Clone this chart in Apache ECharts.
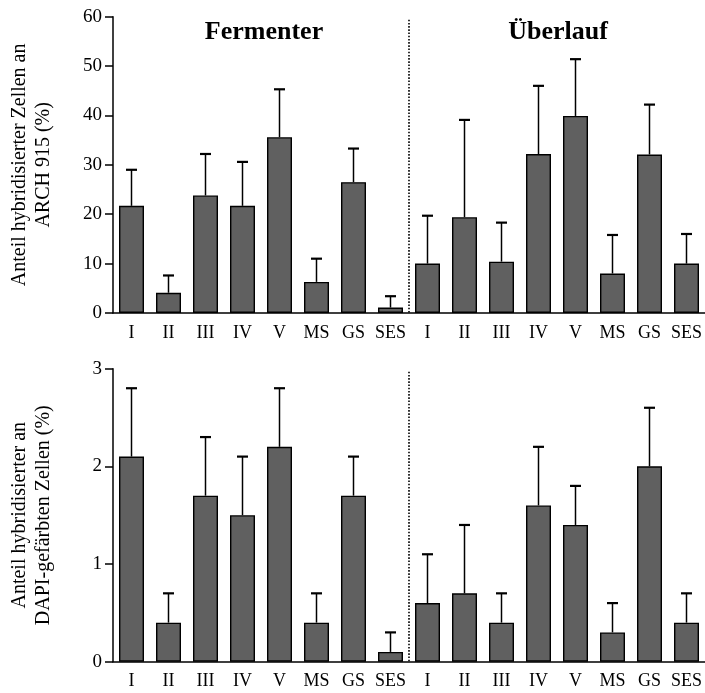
<!DOCTYPE html>
<html>
<head>
<meta charset="utf-8">
<script src="https://cdn.jsdelivr.net/npm/echarts@6/dist/echarts.min.js"></script>
<style>
html,body{margin:0;padding:0;background:#fff;}
#chart{width:705px;height:693px;}
</style>
</head>
<body>
<div id="chart"></div>
<script>
// ---- data ----
const categories = ['I','II','III','IV','V','MS','GS','SES','I','II','III','IV','V','MS','GS','SES'];
const groupTitles = ['Fermenter', 'Überlauf'];
// Top panel: share of hybridised cells in ARCH 915 (%)
const archMean = [21.7, 4.1, 23.8, 21.7, 35.6, 6.3, 26.5, 1.1, 10.0, 19.4, 10.4, 32.2, 39.9, 8.0, 32.1, 10.0];
const archSD   = [7.3, 3.5, 8.4, 8.9, 9.7, 4.7, 6.8, 2.3, 9.7, 19.7, 7.9, 13.8, 11.5, 7.8, 10.1, 6.0];
// Bottom panel: share of hybridised cells in DAPI-stained cells (%)
const dapiMean = [2.1, 0.4, 1.7, 1.5, 2.2, 0.4, 1.7, 0.1, 0.6, 0.7, 0.4, 1.6, 1.4, 0.3, 2.0, 0.4];
const dapiSD   = [0.7, 0.3, 0.6, 0.6, 0.6, 0.3, 0.4, 0.2, 0.5, 0.7, 0.3, 0.6, 0.4, 0.3, 0.6, 0.3];
const topTicks = {min: 0, max: 60, interval: 10};
const bottomTicks = {min: 0, max: 3, interval: 1};
const topAxisName = 'Anteil hybridisierter Zellen an\nARCH 915 (%)';
const bottomAxisName = 'Anteil hybridisierter an\nDAPI-gefärbten Zellen (%)';
const dividerAfterIndex = 7;

// ---- styles ----
const FONT = '"Liberation Serif", "Times New Roman", serif';
const BAR_COLOR = '#606060';

function errRender(params, api) {
  const x = api.value(0), m = api.value(1), sd = api.value(2);
  const base = api.coord([x, m]);
  const top = api.coord([x, m + sd]);
  const half = 5.5;
  return {
    type: 'group',
    children: [
      {type: 'line', shape: {x1: base[0], y1: base[1], x2: top[0], y2: top[1]}, style: {stroke: '#000', lineWidth: 1.5}},
      {type: 'line', shape: {x1: top[0] - half, y1: top[1], x2: top[0] + half, y2: top[1]}, style: {stroke: '#000', lineWidth: 2.2}}
    ]
  };
}
function dividerRender(params, api) {
  const i = api.value(0);
  const a = api.coord([i, 0]);
  const b = api.coord([i + 1, 0]);
  const x = (a[0] + b[0]) / 2;
  const cs = params.coordSys;
  return {
    type: 'line',
    shape: {x1: x, y1: cs.y + 3, x2: x, y2: cs.y + cs.height},
    style: {stroke: '#000', lineWidth: 1.6, lineDash: [1.6, 1.6]}
  };
}

function xAxisCfg(gi) {
  return {
    type: 'category', gridIndex: gi, data: categories,
    axisLine: {lineStyle: {color: '#000', width: 1.5}},
    axisTick: {show: false},
    axisLabel: {interval: 0, color: '#000', fontFamily: FONT, fontSize: 18, margin: 11}
  };
}
function yAxisCfg(gi, ticks, name) {
  return {
    type: 'value', gridIndex: gi, min: ticks.min, max: ticks.max, interval: ticks.interval,
    name: name, nameLocation: 'middle', nameGap: 57, nameRotate: 90,
    nameTextStyle: {color: '#000', fontFamily: FONT, fontSize: 20, lineHeight: 24},
    axisLine: {show: true, lineStyle: {color: '#000', width: 1.5}},
    axisTick: {show: true, length: 8, lineStyle: {color: '#000', width: 1.5}},
    axisLabel: {color: '#000', fontFamily: FONT, fontSize: 19, margin: 11},
    splitLine: {show: false}
  };
}
function barSeries(gi, values) {
  return {
    type: 'bar', xAxisIndex: gi, yAxisIndex: gi, data: values, barWidth: 25,
    itemStyle: {color: BAR_COLOR, borderColor: '#000', borderWidth: 1.4},
    animation: false
  };
}
function errSeries(gi, means, sds) {
  return {
    type: 'custom', xAxisIndex: gi, yAxisIndex: gi, renderItem: errRender,
    data: means.map((m, i) => [i, m, sds[i]]),
    encode: {x: 0, y: 1}, z: 5, animation: false
  };
}
function dividerSeries(gi) {
  return {
    type: 'custom', xAxisIndex: gi, yAxisIndex: gi, renderItem: dividerRender,
    data: [[dividerAfterIndex, 0]], encode: {x: 0, y: 1}, z: 4, animation: false, silent: true
  };
}

const chart = echarts.init(document.getElementById('chart'), null, {renderer: 'canvas'});
chart.setOption({
  backgroundColor: '#fff',
  animation: false,
  title: [
    {text: groupTitles[0], left: 259, top: 14, textAlign: 'center',
     textStyle: {fontFamily: FONT, fontSize: 26, fontWeight: 'bold', color: '#000'}},
    {text: groupTitles[1], left: 553, top: 14, textAlign: 'center',
     textStyle: {fontFamily: FONT, fontSize: 26, fontWeight: 'bold', color: '#000'}}
  ],
  grid: [
    {left: 110, width: 595, top: 16.7, height: 296.3},
    {left: 107, width: 598, top: 368.7, height: 293}
  ],
  xAxis: [xAxisCfg(0), xAxisCfg(1)],
  yAxis: [yAxisCfg(0, topTicks, topAxisName), yAxisCfg(1, bottomTicks, bottomAxisName)],
  series: [
    barSeries(0, archMean), errSeries(0, archMean, archSD), dividerSeries(0),
    barSeries(1, dapiMean), errSeries(1, dapiMean, dapiSD), dividerSeries(1)
  ]
});
</script>
</body>
</html>
